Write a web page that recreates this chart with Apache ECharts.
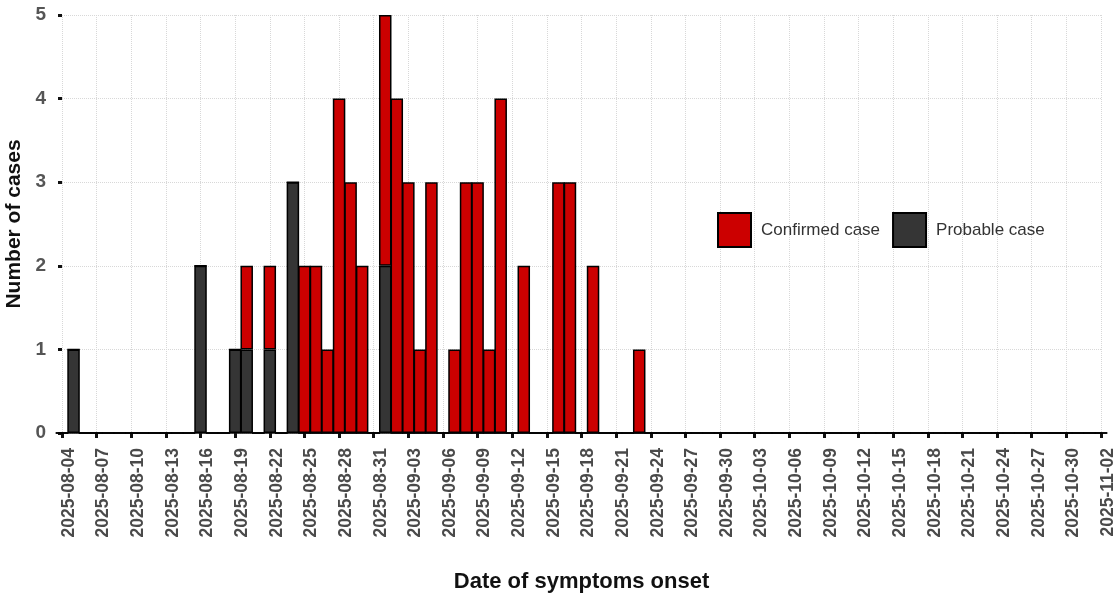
<!DOCTYPE html>
<html>
<head>
<meta charset="utf-8">
<script src="https://cdn.jsdelivr.net/npm/echarts@6/dist/echarts.min.js"></script>
<style>
html,body{margin:0;padding:0;background:#fff;}
#chart{width:1119px;height:595px;}
</style>
</head>
<body>
<div id="chart"></div>
<script>
// Axis range (daily categories)
var startDate = '2025-08-04';
var endDate = '2025-11-02';

// Confirmed cases by date of symptom onset
var confirmedDates  = ['2025-08-20','2025-08-22','2025-08-25','2025-08-26','2025-08-27','2025-08-28','2025-08-29','2025-08-30','2025-09-01','2025-09-02','2025-09-03','2025-09-04','2025-09-05','2025-09-07','2025-09-08','2025-09-09','2025-09-10','2025-09-11','2025-09-13','2025-09-16','2025-09-17','2025-09-19','2025-09-23'];
var confirmedCounts = [1,1,2,2,1,4,3,2,3,4,3,1,3,1,3,3,1,4,2,3,3,2,1];

// Probable cases by date of symptom onset
var probableDates  = ['2025-08-05','2025-08-16','2025-08-19','2025-08-20','2025-08-22','2025-08-24','2025-09-01'];
var probableCounts = [1,2,1,1,1,3,2];

var yTicks = [0,1,2,3,4,5];

// Build consecutive daily categories
var categories = [];
(function(){
  var d = new Date(startDate + 'T00:00:00Z');
  var e = new Date(endDate + 'T00:00:00Z');
  while (d <= e) {
    categories.push(d.toISOString().slice(0,10));
    d.setUTCDate(d.getUTCDate() + 1);
  }
})();

function toSeries(dates, counts) {
  return categories.map(function(c){
    var i = dates.indexOf(c);
    return i >= 0 ? counts[i] : 0;
  });
}
var probableData = toSeries(probableDates, probableCounts);
var confirmedData = toSeries(confirmedDates, confirmedCounts);

var FONT = 'Liberation Sans, Arial, sans-serif';
var chart = echarts.init(document.getElementById('chart'), null, {renderer:'canvas'});
chart.setOption({
  animation: false,
  backgroundColor: '#ffffff',
  grid: { left: 62, right: 18, top: 15, bottom: 162, containLabel: false, outerBoundsMode: 'none' },
  legend: {
    left: 717, top: 212, padding: 0,
    itemWidth: 33, itemHeight: 34, itemGap: 12,
    icon: 'rect',
    textStyle: { fontFamily: FONT, fontSize: 17, color: '#333', padding: [0,0,0,5] },
    data: ['Confirmed case', 'Probable case']
  },
  xAxis: {
    type: 'category',
    data: categories,
    boundaryGap: false,
    name: 'Date of symptoms onset',
    nameLocation: 'middle',
    nameGap: 138,
    nameTextStyle: { fontFamily: FONT, fontSize: 22, fontWeight: 'bold', color: '#111' },
    axisLine: { show: true, lineStyle: { color: '#111', width: 1.5 } },
    axisTick: { show: true, interval: 2, length: 5, lineStyle: { color: '#111', width: 3 } },
    axisLabel: {
      interval: 2, rotate: 90, margin: 15,
      verticalAlign: 'top', lineHeight: 14,
      fontFamily: FONT, fontSize: 17.5, fontWeight: 'bold', color: '#4a4a4a'
    },
    splitLine: { show: true, interval: 2, lineStyle: { color: '#d8d8d8', type: 'dotted', width: 1 } }
  },
  yAxis: {
    type: 'value',
    min: 0, max: 5, interval: 1,
    name: 'Number of cases',
    nameLocation: 'middle',
    nameGap: 30,
    nameTextStyle: { fontFamily: FONT, fontSize: 21, fontWeight: 'bold', color: '#111' },
    axisLine: { show: false },
    axisTick: { show: true, length: 4, lineStyle: { color: '#111', width: 3 } },
    axisLabel: {
      margin: 16,
      fontFamily: FONT, fontSize: 19, fontWeight: 'bold', color: '#555',
      formatter: function(v){ return yTicks.indexOf(v) >= 0 ? String(v) : ''; }
    },
    splitLine: { show: true, lineStyle: { color: '#d8d8d8', type: 'dotted', width: 1 } }
  },
  series: [
    {
      name: 'Probable case', type: 'bar', stack: 'cases',
      data: probableData, barWidth: 12.5,
      itemStyle: { color: '#353535', borderColor: '#000', borderWidth: 1.5 }
    },
    {
      name: 'Confirmed case', type: 'bar', stack: 'cases',
      data: confirmedData, barWidth: 12.5,
      itemStyle: { color: '#cc0000', borderColor: '#000', borderWidth: 1.5 }
    }
  ]
});
</script>
</body>
</html>
